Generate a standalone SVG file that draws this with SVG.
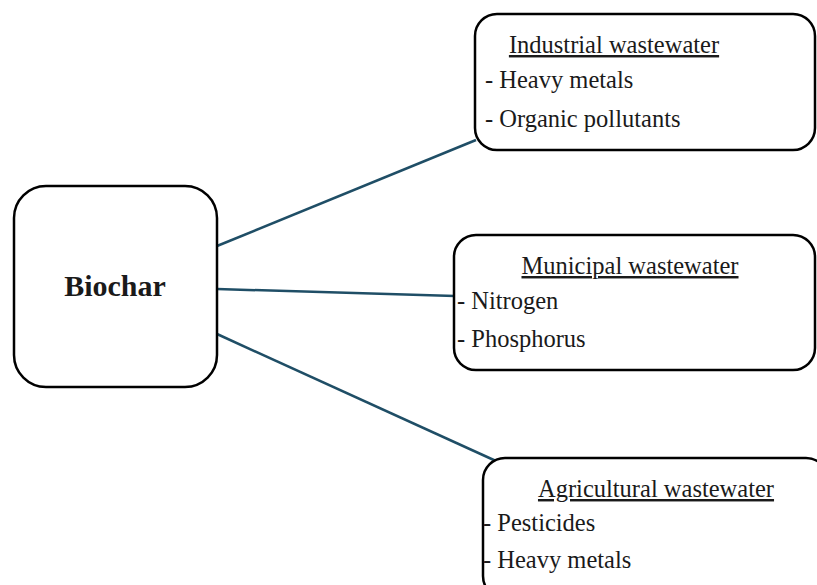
<svg xmlns="http://www.w3.org/2000/svg" width="817" height="585" viewBox="0 0 817 585">
<style>
.box{fill:#fff;stroke:#000;stroke-width:2.5}
.t{font-family:"Liberation Serif",serif;font-size:24.5px;fill:#1a1a1a}
.h{text-decoration:underline;text-anchor:middle}
.b{font-family:"Liberation Serif",serif;font-size:30px;font-weight:bold;fill:#1a1a1a;text-anchor:middle}
.c{stroke:#1f4e66;stroke-width:2.5;fill:none}
</style>
<rect width="817" height="585" fill="#fff"/>
<g id="connectors">
<line class="c" x1="217" y1="246" x2="476" y2="140"/>
<line class="c" x1="217" y1="289" x2="455" y2="296"/>
<line class="c" x1="217" y1="334" x2="496" y2="461"/>
</g>
<g id="biochar">
<rect class="box" x="14" y="186" width="203" height="201" rx="32"/>
<text class="b" x="115" y="296">Biochar</text>
</g>
<g id="industrial">
<rect class="box" x="475" y="14" width="340" height="136" rx="22"/>
<text class="t h" x="614" y="53">Industrial wastewater</text>
<text class="t" x="485" y="88">- Heavy metals</text>
<text class="t" x="485" y="127">- Organic pollutants</text>
</g>
<g id="municipal">
<rect class="box" x="454" y="235" width="361" height="135" rx="22"/>
<text class="t h" x="630" y="274">Municipal wastewater</text>
<text class="t" x="457" y="309">- Nitrogen</text>
<text class="t" x="457" y="347">- Phosphorus</text>
</g>
<g id="agricultural">
<rect class="box" x="483" y="458" width="345" height="140" rx="22"/>
<text class="t h" x="656" y="497">Agricultural wastewater</text>
<text class="t" x="483" y="531">- Pesticides</text>
<text class="t" x="483" y="568">- Heavy metals</text>
</g>
</svg>
